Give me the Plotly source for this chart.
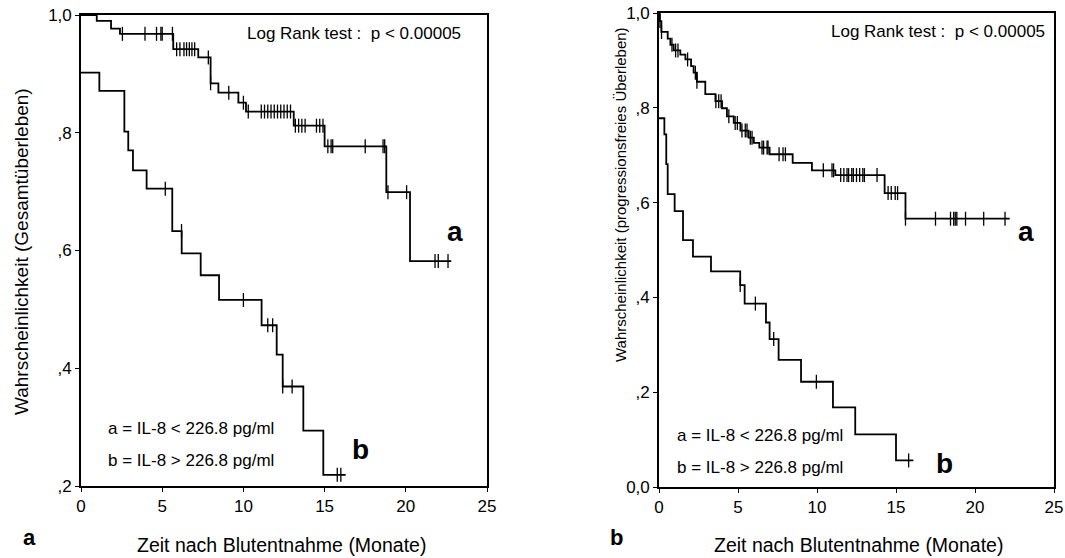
import numpy as np
import plotly.graph_objects as go

# ---- data ----
# Panel a: overall survival
a1_t = [0, 0.97, 1.85, 2.4, 5.68, 7.22, 7.98, 8.46, 9.69, 10.16, 13.1, 15.0, 18.8, 20.26, 22.8]
a1_s = [1.0, 0.990, 0.977, 0.968, 0.942, 0.928, 0.884, 0.868, 0.851, 0.836, 0.812, 0.777, 0.699, 0.582, 0.582]
a1_cens = [2.55, 3.94, 4.65, 4.92, 5.0, 5.63, 5.89, 6.09, 6.34, 6.5, 6.67, 6.83, 7.0, 7.84, 7.98,
           9.1, 10.0, 10.3, 11.1, 11.3, 11.5, 11.7, 11.9, 12.1, 12.3, 12.5, 12.7, 12.9,
           13.2, 13.4, 13.6, 13.8, 14.5, 14.7, 14.9, 15.2, 15.4, 15.5, 17.5, 18.6, 18.7,
           18.9, 20.05, 21.8, 22.0, 22.6]
b1_t = [0, 1.13, 2.67, 2.91, 3.2, 4.04, 5.62, 6.2, 7.37, 8.5, 11.12, 12.05, 12.42, 13.69, 14.92, 16.3]
b1_s = [0.902, 0.871, 0.802, 0.770, 0.736, 0.705, 0.633, 0.595, 0.558, 0.516, 0.473, 0.423, 0.369,
        0.294, 0.219, 0.219]
b1_cens = [5.19, 6.19, 10.0, 11.5, 11.8, 12.42, 13.0, 15.78, 16.0]

# Panel b: progression-free survival
a2_t = [0, 0.05, 0.15, 0.55, 0.72, 0.93, 1.35, 1.67, 2.03, 2.19, 2.4, 2.93, 3.57, 3.99, 4.3,
        4.73, 5.15, 5.67, 6.0, 6.35, 7.0, 8.46, 9.68, 11.16, 14.28, 15.6, 22.2]
a2_s = [1.0, 0.983, 0.960, 0.946, 0.933, 0.921, 0.912, 0.902, 0.888, 0.874, 0.855, 0.829, 0.814,
        0.799, 0.782, 0.768, 0.752, 0.737, 0.726, 0.716, 0.702, 0.684, 0.668, 0.658, 0.620,
        0.566, 0.566]
a2_cens = [0.06, 0.16, 0.82, 1.05, 1.2, 1.81, 2.3, 2.4, 3.6, 3.78, 3.93, 4.42, 4.82, 4.96,
           5.25, 5.46, 5.57, 5.78, 5.89, 6.52, 6.62, 6.84, 6.9, 7.6, 7.85, 8.0, 10.4, 10.95, 11.05,
           11.5, 11.7, 11.9, 12.0, 12.2, 12.3, 12.5, 12.7, 12.9, 13.0, 13.8, 14.5, 14.7, 14.95,
           15.1, 15.6, 17.5, 18.45, 18.65, 18.75, 18.85, 19.4, 20.55, 21.9]
b2_t = [0, 0.34, 0.46, 0.55, 0.99, 1.52, 2.15, 3.29, 5.14, 5.42, 6.77, 7.0, 7.57, 8.99, 11.01,
        12.42, 15.0, 16.1]
b2_s = [0.778, 0.744, 0.681, 0.618, 0.582, 0.521, 0.486, 0.455, 0.426, 0.387, 0.347, 0.312,
        0.268, 0.222, 0.168, 0.111, 0.056, 0.056]
b2_cens = [5.14, 6.1, 7.26, 9.96, 15.8]

x_ticks = [0, 5, 10, 15, 20, 25]
y1_ticks = [0.2, 0.4, 0.6, 0.8, 1.0]
y1_labels = [",2", ",4", ",6", ",8", "1,0"]
y2_ticks = [0.0, 0.2, 0.4, 0.6, 0.8, 1.0]
y2_labels = ["0,0", ",2", ",4", ",6", ",8", "1,0"]

W, H = 1065, 558
FONT = "Liberation Sans, Arial, sans-serif"


def step_at(t_list, s_list, tc):
    t = np.asarray(t_list)
    s = np.asarray(s_list)
    idx = np.searchsorted(t, np.asarray(tc), side="right") - 1
    return s[np.clip(idx, 0, len(s) - 1)]


def px(x):
    return x / W


def py(y):
    return 1 - y / H


fig = go.Figure()

curves = [
    (a1_t, a1_s, a1_cens, "x", "y"),
    (b1_t, b1_s, b1_cens, "x", "y"),
    (a2_t, a2_s, a2_cens, "x2", "y2"),
    (b2_t, b2_s, b2_cens, "x2", "y2"),
]
for t, s, c, xa, ya in curves:
    fig.add_trace(go.Scatter(x=t, y=s, mode="lines", line=dict(color="black", width=1.8, shape="hv"),
                             xaxis=xa, yaxis=ya, showlegend=False, hoverinfo="skip"))
    fig.add_trace(go.Scatter(x=c, y=step_at(t, s, c), mode="markers",
                             marker=dict(symbol="line-ns-open", size=10, color="black",
                                         line=dict(color="black", width=1.3)),
                             xaxis=xa, yaxis=ya, showlegend=False, hoverinfo="skip"))

axis_common = dict(showline=True, linecolor="black", linewidth=1.6, mirror=True, ticks="outside",
                   ticklen=4, tickwidth=1.2, tickcolor="black", showgrid=False, zeroline=False,
                   automargin=False, ticklabeloverflow="allow",
                   tickfont=dict(family=FONT, size=17, color="black"))

fig.update_layout(
    template="none",
    width=W, height=H, margin=dict(l=0, r=0, t=0, b=0, pad=0),
    paper_bgcolor="white", plot_bgcolor="white",
    xaxis=dict(domain=[px(81), px(487)], range=[0, 25], tickvals=x_ticks, anchor="y", **axis_common),
    yaxis=dict(domain=[py(486), py(15)], range=[0.2, 1.0], tickvals=y1_ticks, ticktext=y1_labels,
               anchor="x", **axis_common),
    xaxis2=dict(domain=[px(659), px(1054)], range=[0, 25], tickvals=x_ticks, anchor="y2", **axis_common),
    yaxis2=dict(domain=[py(487), py(13)], range=[0.0, 1.0], tickvals=y2_ticks, ticktext=y2_labels,
                anchor="x2", **axis_common),
)

ann = []
f17 = dict(family=FONT, size=17, color="black")


def add(**kw):
    kw.setdefault("showarrow", False)
    kw.setdefault("xanchor", "center")
    kw.setdefault("yanchor", "middle")
    ann.append(kw)


# Log rank
add(x=23.5, y=0.969, xref="x", yref="y", text="Log Rank test :  p < 0.00005", xanchor="right", font=f17)
add(x=24.56, y=0.960, xref="x2", yref="y2", text="Log Rank test :  p < 0.00005", xanchor="right", font=f17)
# curve labels
big = dict(family=FONT, size=28, color="black")
add(x=23.0, y=0.632, xref="x", yref="y", text="<b>a</b>", font=big)
add(x=17.2, y=0.262, xref="x", yref="y", text="<b>b</b>", font=big)
add(x=23.2, y=0.538, xref="x2", yref="y2", text="<b>a</b>", font=big)
add(x=18.1, y=0.050, xref="x2", yref="y2", text="<b>b</b>", font=big)
# legend text
add(x=1.54, y=0.297, xref="x", yref="y", text="a = IL-8 < 226.8 pg/ml", xanchor="left", font=f17)
add(x=1.54, y=0.243, xref="x", yref="y", text="b = IL-8 > 226.8 pg/ml", xanchor="left", font=f17)
add(x=1.03, y=0.108, xref="x2", yref="y2", text="a = IL-8 < 226.8 pg/ml", xanchor="left", font=f17)
add(x=1.03, y=0.041, xref="x2", yref="y2", text="b = IL-8 > 226.8 pg/ml", xanchor="left", font=f17)
# axis titles
add(x=px(21), y=py(252), xref="paper", yref="paper", text="Wahrscheinlichkeit (Gesamtüberleben)",
    textangle=-90, font=dict(family=FONT, size=19, color="black"))
add(x=px(620), y=py(195), xref="paper", yref="paper",
    text="Wahrscheinlichkeit (progressionsfreies Überleben)",
    textangle=-90, font=dict(family=FONT, size=15, color="black"))
fx = dict(family=FONT, size=19.5, color="black")
add(x=px(281), y=py(545), xref="paper", yref="paper", text="Zeit nach Blutentnahme (Monate)", font=fx)
add(x=px(858), y=py(545), xref="paper", yref="paper", text="Zeit nach Blutentnahme (Monate)", font=fx)
# panel labels
fp = dict(family=FONT, size=22, color="black")
add(x=px(29), y=py(537), xref="paper", yref="paper", text="<b>a</b>", font=fp)
add(x=px(616), y=py(537), xref="paper", yref="paper", text="<b>b</b>", font=fp)

fig.update_layout(annotations=ann)
fig.write_html(
    "out.html",
    config={"displayModeBar": False},
    post_script="document.body.style.margin='0';document.body.style.overflow='hidden';",
)
